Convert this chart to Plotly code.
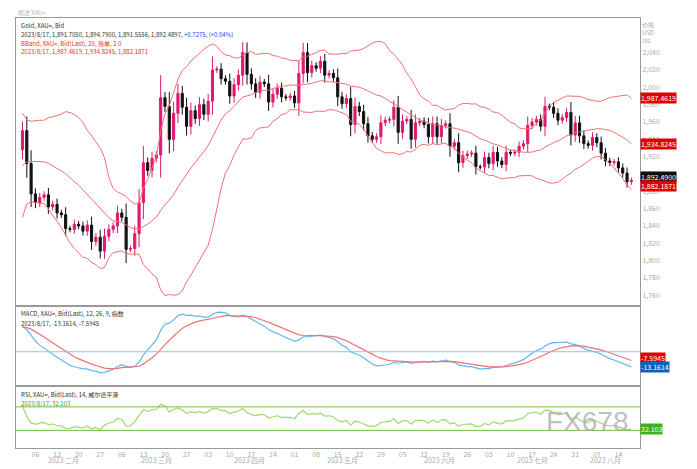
import pandas as pd
import numpy as np
import plotly.graph_objects as go
from plotly.subplots import make_subplots

# January closes used only as indicator warm-up (not drawn)
jan = [1839,1855,1833,1865,1872,1877,1876,1897,1920,1916,1908,1904,1932,1926,1931,1937,1946,1930,1928,1923,1928]
feb = [1950,1912,1877,1867,1873,1876,1862,1865,1855,1853,1837,1836,1842,1840,1834,1841,1822,1827,1811,1828]
mar = [1836,1840,1855,1850,1813,1814,1831,1867,1913,1904,1918,1922,1988,1978,1940,1970,1993,1977,1955,1973,1964,1980,1969]
apr = [1984,2020,2021,2010,2007,1990,2003,2014,2040,2015,2004,1994,2006,2004,1983,1992,1999,1989,1988,1990]
may = [1982,2016,2040,2017,2025,2022,2030,2014,2016,2011,1989,1981,1987,1957,1978,1972,1958,1944,1940,1943,1959,1962,1963]
jun = [1977,1948,1961,1963,1940,1959,1961,1957,1943,1958,1943,1956,1958,1932,1936,1913,1921,1923,1924,1908,1908,1919]
jul = [1912,1925,1915,1911,1925,1924,1925,1932,1935,1956,1960,1963,1955,1978,1977,1970,1962,1965,1971,1945,1959]
aug = [1944,1935,1933,1942,1936,1924,1915,1913,1914,1907,1901,1891,1892.49]
closes = feb + mar + apr + may + jun + jul + aug
month_names = ["2023 二月", "2023 三月", "2023 四月", "2023 五月", "2023 六月", "2023 七月", "2023 八月"]
month_lens = [len(feb), len(mar), len(apr), len(may), len(jun), len(jul), len(aug)]

n0 = len(jan)
dates = pd.bdate_range("2023-02-01", periods=len(closes))
full = pd.Series(jan + closes, dtype=float)
c = pd.Series(closes, dtype=float)
o = full.shift(1).iloc[n0:].reset_index(drop=True)
body = (c - o).abs()
h = np.maximum(o, c) + body * 0.35 + 3
l = np.minimum(o, c) - body * 0.35 - 3
x = list(range(len(c)))

ma_f = full.rolling(20, min_periods=1).mean()
sd_f = full.rolling(20, min_periods=2).std(ddof=0).fillna(0)
ma = ma_f.iloc[n0:].reset_index(drop=True)
sd = sd_f.iloc[n0:].reset_index(drop=True)
up = ma + 2 * sd
lo = ma - 2 * sd
e12 = full.ewm(span=12, adjust=False).mean()
e26 = full.ewm(span=26, adjust=False).mean()
macd_f = e12 - e26
sig_f = macd_f.ewm(span=9, adjust=False).mean()
macd = macd_f.iloc[n0:].reset_index(drop=True)
sig = sig_f.iloc[n0:].reset_index(drop=True)
d = full.diff()
g = d.clip(lower=0).ewm(alpha=1/14, adjust=True, min_periods=1).mean()
ls = (-d.clip(upper=0)).ewm(alpha=1/14, adjust=True, min_periods=1).mean()
rsi = (100 - 100 / (1 + g / ls)).iloc[n0:].reset_index(drop=True)

fig = make_subplots(rows=3, cols=1, shared_xaxes=True, vertical_spacing=0,
                    row_heights=[0.669, 0.1875, 0.1435])
fig.add_trace(go.Candlestick(x=x, open=o, high=h, low=l, close=c,
    increasing=dict(line=dict(color="#e0186f", width=1), fillcolor="#e0186f"),
    decreasing=dict(line=dict(color="#111111", width=1), fillcolor="#111111"),
    whiskerwidth=0, showlegend=False), row=1, col=1)
for s in [up, ma, lo]:
    fig.add_trace(go.Scatter(x=x, y=s, mode="lines", line=dict(color="#f07070", width=1),
                             showlegend=False, hoverinfo="skip"), row=1, col=1)
fig.add_trace(go.Scatter(x=x, y=macd, mode="lines", line=dict(color="#60b8f0", width=1.2), showlegend=False), row=2, col=1)
fig.add_trace(go.Scatter(x=x, y=sig, mode="lines", line=dict(color="#f07070", width=1.2), showlegend=False), row=2, col=1)
fig.add_hline(y=0, line=dict(color="#80c8f0", width=1), row=2, col=1)
fig.add_trace(go.Scatter(x=x, y=rsi, mode="lines", line=dict(color="#a0d870", width=1.2), showlegend=False), row=3, col=1)
for v in [70, 30]:
    fig.add_hline(y=v, line=dict(color="#70c040", width=1), row=3, col=1)

tickvals = [i for i, dt in enumerate(dates) if dt.weekday() == 0]
ticktext = [f"{dates[i].day:02d}" for i in tickvals]
ax = dict(showgrid=False, zeroline=False, showline=True, linecolor="#999", mirror=True,
          range=[-1.5, len(c) + 1], rangeslider=dict(visible=False))
fig.update_xaxes(**ax, showticklabels=False)
fig.update_xaxes(showticklabels=True, tickvals=tickvals, ticktext=ticktext,
                 tickfont=dict(size=7, color="#aaa"), ticks="", row=3, col=1)
yax = dict(side="right", showgrid=False, zeroline=False, showline=True, linecolor="#999",
           mirror=True, tickfont=dict(size=7, color="#aaa"), ticks="")
fig.update_yaxes(**yax, range=[1748, 2080], tickvals=list(range(1760, 2041, 20)),
                 tickformat=",", row=1, col=1)
fig.update_yaxes(**yax, range=[-30, 40], showticklabels=False, row=2, col=1)
fig.update_yaxes(**yax, range=[0, 105], showticklabels=False, row=3, col=1)

start = 0
for name, n in zip(month_names, month_lens):
    fig.add_annotation(x=start + n / 2 - 0.5, y=-0.045, xref="x3", yref="paper", text=name,
                       showarrow=False, font=dict(size=7, color="#aaa"))
    start += n

def box(yv, yref, txt, bg, fc="white"):
    fig.add_annotation(x=1.0, xref="paper", y=yv, yref=yref, text=txt, xanchor="left",
                       showarrow=False, bgcolor=bg, font=dict(size=7, color=fc), borderpad=0)
box(up.iloc[-1], "y", f"{up.iloc[-1]:,.4f}", "#e00000")
box(ma.iloc[-1], "y", f"{ma.iloc[-1]:,.4f}", "#e00000")
box(c.iloc[-1] + 4, "y", f"{c.iloc[-1]:,.4f}", "#111111")
box(c.iloc[-1] - 6, "y", f"{lo.iloc[-1]:,.4f}", "#e00000")
box(sig.iloc[-1] + 2, "y2", f"{sig.iloc[-1]:.4f}", "#e00000")
box(sig.iloc[-1] - 6, "y2", f"{macd.iloc[-1]:.4f}", "#1060c0")
box(rsi.iloc[-1], "y3", f"{rsi.iloc[-1]:.3f}", "#40b020")
fig.add_annotation(x=1.0, xref="paper", y=1.0, yref="paper", text="价格<br>USD<br>/oz",
                   xanchor="left", yanchor="top", showarrow=False, font=dict(size=6, color="#aaa"), align="left")

legend = [
    ("y domain", 0.995, "Gold, XAU=, Bid", "#333"),
    ("y domain", 0.965, "2023/8/17, 1,891.7050, 1,894.7900, 1,891.5556, 1,892.4897, <span style='color:#2040ff'>+0.7275, (+0.04%)</span>", "#333"),
    ("y domain", 0.935, "BBand, XAU=, Bid(Last), 20, 简单, 2.0", "#e03030"),
    ("y domain", 0.905, f"2023/8/17, {up.iloc[-1]:,.4f}, {ma.iloc[-1]:,.4f}, {lo.iloc[-1]:,.4f}", "#e03030"),
    ("y2 domain", 0.98, "MACD, XAU=, Bid(Last), 12, 26, 9, 指数", "#333"),
    ("y2 domain", 0.86, f"2023/8/17, {macd.iloc[-1]:.4f}, {sig.iloc[-1]:.4f}", "#333"),
    ("y3 domain", 0.98, "RSI, XAU=, Bid(Last), 14, 威尔德平滑", "#333"),
    ("y3 domain", 0.82, f"2023/8/17, {rsi.iloc[-1]:.3f}", "#40a020"),
]
for yref, yy, t, col in legend:
    fig.add_annotation(x=0.005, xref="paper", y=yy, yref=yref, text=t, xanchor="left", yanchor="top",
                       showarrow=False, font=dict(size=6, color=col))

fig.add_annotation(x=0, xref="paper", y=1.0, yref="paper", yshift=12, text="概述 XAU=",
                   xanchor="left", showarrow=False, font=dict(size=6, color="#bbb"))
fig.add_annotation(x=0.985, xref="paper", y=0.02, yref="paper", text="FX678", xanchor="right", yanchor="bottom",
                   showarrow=False, font=dict(size=28, color="rgba(170,170,170,0.75)", family="Arial"))

fig.update_layout(width=697, height=469, margin=dict(l=8, r=65, t=10, b=29),
                  paper_bgcolor="white", plot_bgcolor="white",
                  font=dict(family="Noto Sans CJK SC, DejaVu Sans"))
fig.write_html("out.html")
